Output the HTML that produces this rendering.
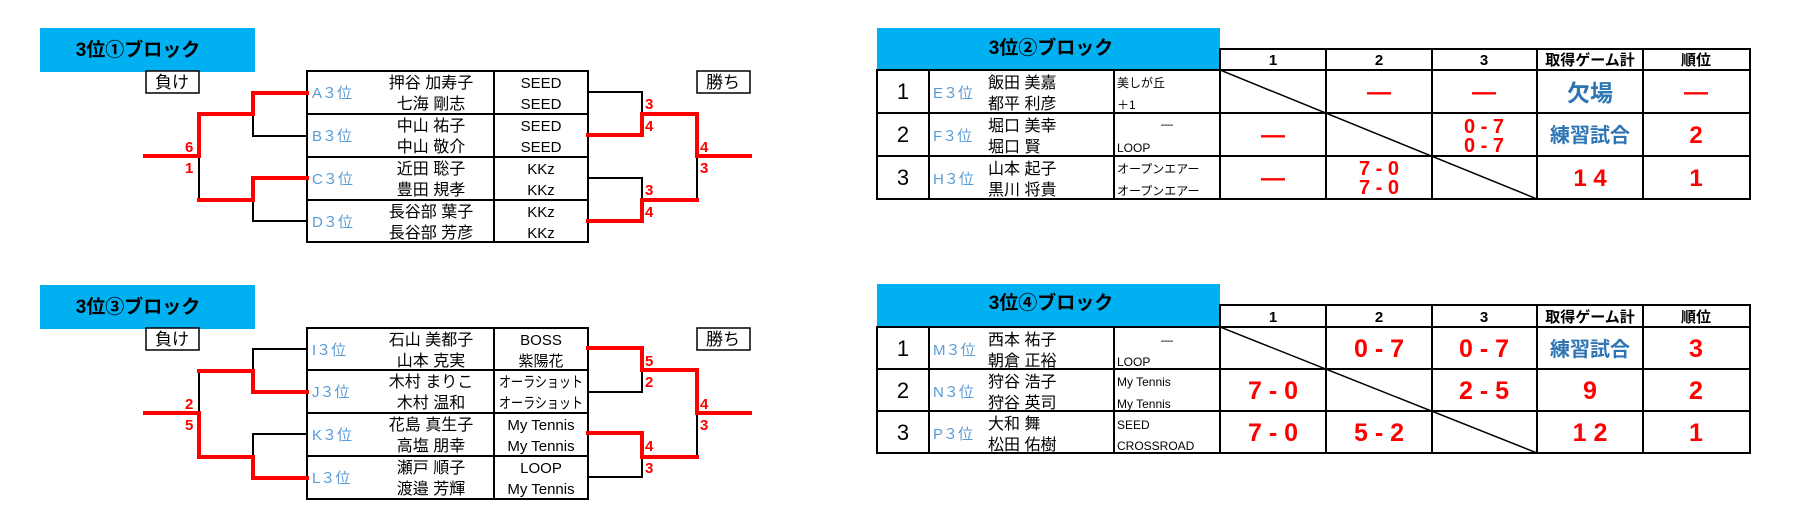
<!DOCTYPE html>
<html><head><meta charset="utf-8"><style>
html,body{margin:0;padding:0;background:#fff;}
svg{display:block;}
text{font-family:"Liberation Sans","Noto Sans CJK JP",sans-serif;}
.n{font-size:16px;fill:#000;text-anchor:middle;}
.t{font-size:15px;fill:#000;text-anchor:middle;}
.ts{font-size:12px;fill:#000;}
.p{font-size:15px;fill:#5b9bd5;}
.h{font-size:19px;font-weight:bold;fill:#000;text-anchor:middle;}
.r{fill:#f00;font-weight:bold;text-anchor:middle;}
.b{fill:#2e75b6;font-weight:bold;text-anchor:middle;}
.k{font-size:22px;fill:#000;text-anchor:middle;}
.ch{font-size:15px;font-weight:bold;fill:#000;text-anchor:middle;}
.lbl{font-size:15px;fill:#f00;font-weight:bold;}
</style></head><body>
<svg width="1817" height="525" viewBox="0 0 1817 525" xmlns="http://www.w3.org/2000/svg">
<g stroke-linecap="square">
<!-- ===== Block 1 ===== -->
<rect x="40" y="28" width="215" height="44" fill="#00b0f0"/>
<text class="h" x="138" y="56">3位①ブロック</text>
<rect x="146" y="71" width="53" height="22" fill="#fff" stroke="#000" stroke-width="1.5"/>
<text x="172" y="88" font-size="17" text-anchor="middle">負け</text>
<rect x="697" y="71" width="53" height="22" fill="#fff" stroke="#000" stroke-width="1.5"/>
<text x="723" y="88" font-size="17" text-anchor="middle">勝ち</text>
<g fill="none" stroke="#000" stroke-width="2">
<rect x="307" y="71" width="281" height="171"/>
<line x1="494" y1="71" x2="494" y2="242"/>
<line x1="307" y1="114" x2="588" y2="114"/>
<line x1="307" y1="157" x2="588" y2="157"/>
<line x1="307" y1="200" x2="588" y2="200"/>
<!-- black bracket lines -->
<polyline points="199,157 199,200"/>
<polyline points="253,114 253,136 307,136"/>
<polyline points="253,200 253,221 307,221"/>
<polyline points="588,92 642,92 642,114"/>
<polyline points="697,157 697,200"/>
<polyline points="588,178 642,178 642,200"/>
</g>
<g fill="none" stroke="#f00" stroke-width="4">
<polyline points="145,156 199,156 199,114 253,114 253,93 307,93"/>
<polyline points="199,200 253,200 253,178 307,178"/>
<polyline points="588,135 642,135 642,114 697,114 697,156 750,156"/>
<polyline points="588,221 642,221 642,200 697,200"/>
</g>
<text class="lbl" x="185" y="152">6</text><text class="lbl" x="185" y="173">1</text>
<text class="lbl" x="645" y="109">3</text><text class="lbl" x="645" y="131">4</text>
<text class="lbl" x="700" y="152">4</text><text class="lbl" x="700" y="173">3</text>
<text class="lbl" x="645" y="195">3</text><text class="lbl" x="645" y="217">4</text>
<text class="p" x="312" y="98">A３位</text>
<text class="n" x="431" y="88">押谷 加寿子</text><text class="n" x="431" y="109">七海 剛志</text>
<text class="t" x="541" y="88">SEED</text><text class="t" x="541" y="109">SEED</text>
<text class="p" x="312" y="141">B３位</text>
<text class="n" x="431" y="131">中山 祐子</text><text class="n" x="431" y="152">中山 敬介</text>
<text class="t" x="541" y="131">SEED</text><text class="t" x="541" y="152">SEED</text>
<text class="p" x="312" y="184">C３位</text>
<text class="n" x="431" y="174">近田 聡子</text><text class="n" x="431" y="195">豊田 規孝</text>
<text class="t" x="541" y="174">KKz</text><text class="t" x="541" y="195">KKz</text>
<text class="p" x="312" y="227">D３位</text>
<text class="n" x="431" y="217">長谷部 葉子</text><text class="n" x="431" y="238">長谷部 芳彦</text>
<text class="t" x="541" y="217">KKz</text><text class="t" x="541" y="238">KKz</text>

<!-- ===== Block 3 ===== -->
<rect x="40" y="285" width="215" height="44" fill="#00b0f0"/>
<text class="h" x="138" y="313">3位③ブロック</text>
<rect x="146" y="328" width="53" height="22" fill="#fff" stroke="#000" stroke-width="1.5"/>
<text x="172" y="345" font-size="17" text-anchor="middle">負け</text>
<rect x="697" y="328" width="53" height="22" fill="#fff" stroke="#000" stroke-width="1.5"/>
<text x="723" y="345" font-size="17" text-anchor="middle">勝ち</text>
<g fill="none" stroke="#000" stroke-width="2">
<rect x="307" y="328" width="281" height="171"/>
<line x1="494" y1="328" x2="494" y2="499"/>
<line x1="307" y1="370" x2="588" y2="370"/>
<line x1="307" y1="413" x2="588" y2="413"/>
<line x1="307" y1="456" x2="588" y2="456"/>
<polyline points="199,371 199,413"/>
<polyline points="307,349 253,349 253,371"/>
<polyline points="307,434 253,434 253,457"/>
<polyline points="588,392 642,392 642,370"/>
<polyline points="697,413 697,457"/>
<polyline points="588,477 642,477 642,457"/>
</g>
<g fill="none" stroke="#f00" stroke-width="4">
<polyline points="145,413 199,413 199,457 253,457 253,478 307,478"/>
<polyline points="199,371 253,371 253,392 307,392"/>
<polyline points="588,348 642,348 642,370 697,370 697,413 750,413"/>
<polyline points="588,433 642,433 642,457 697,457"/>
</g>
<text class="lbl" x="185" y="409">2</text><text class="lbl" x="185" y="430">5</text>
<text class="lbl" x="645" y="366">5</text><text class="lbl" x="645" y="387">2</text>
<text class="lbl" x="700" y="409">4</text><text class="lbl" x="700" y="430">3</text>
<text class="lbl" x="645" y="451">4</text><text class="lbl" x="645" y="473">3</text>
<text class="p" x="312" y="355">I３位</text>
<text class="n" x="431" y="345">石山 美都子</text><text class="n" x="431" y="366">山本 克実</text>
<text class="t" x="541" y="345">BOSS</text><text class="t" x="541" y="366">紫陽花</text>
<text class="p" x="312" y="397">J３位</text>
<text class="n" x="431" y="387">木村 まりこ</text><text class="n" x="431" y="408">木村 温和</text>
<text class="t" x="541" y="387" font-size="13" textLength="84" lengthAdjust="spacingAndGlyphs">オーラショット</text><text class="t" x="541" y="408" font-size="13" textLength="84" lengthAdjust="spacingAndGlyphs">オーラショット</text>
<text class="p" x="312" y="440">K３位</text>
<text class="n" x="431" y="430">花島 真生子</text><text class="n" x="431" y="451">高塩 朋幸</text>
<text class="t" x="541" y="430">My Tennis</text><text class="t" x="541" y="451">My Tennis</text>
<text class="p" x="312" y="483">L３位</text>
<text class="n" x="431" y="473">瀬戸 順子</text><text class="n" x="431" y="494">渡邉 芳輝</text>
<text class="t" x="541" y="473">LOOP</text><text class="t" x="541" y="494">My Tennis</text>

<!-- ===== Block 2 ===== -->
<rect x="877" y="28" width="343" height="42" fill="#00b0f0"/>
<text class="h" x="1051" y="54">3位②ブロック</text>
<g fill="none" stroke="#000" stroke-width="2">
<line x1="1220" y1="49" x2="1750" y2="49"/>
<line x1="877" y1="70" x2="1750" y2="70"/>
<line x1="877" y1="113" x2="1750" y2="113"/>
<line x1="877" y1="156" x2="1750" y2="156"/>
<line x1="877" y1="199" x2="1750" y2="199"/>
<line x1="877" y1="70" x2="877" y2="199"/>
<line x1="929" y1="70" x2="929" y2="199"/>
<line x1="1114" y1="70" x2="1114" y2="199"/>
<line x1="1220" y1="49" x2="1220" y2="199"/>
<line x1="1326" y1="49" x2="1326" y2="199"/>
<line x1="1432" y1="49" x2="1432" y2="199"/>
<line x1="1537" y1="49" x2="1537" y2="199"/>
<line x1="1643" y1="49" x2="1643" y2="199"/>
<line x1="1750" y1="49" x2="1750" y2="199"/>
<line x1="1220" y1="70" x2="1537" y2="199" stroke-width="1.5"/>
</g>
<text class="ch" x="1273" y="65">1</text><text class="ch" x="1379" y="65">2</text><text class="ch" x="1484" y="65">3</text>
<text class="ch" x="1590" y="65" font-size="13">取得ゲーム計</text><text class="ch" x="1696" y="65">順位</text>
<text class="k" x="903" y="99">1</text><text class="k" x="903" y="142">2</text><text class="k" x="903" y="185">3</text>
<text class="p" x="933" y="98">E３位</text><text class="p" x="933" y="141">F３位</text><text class="p" x="933" y="184">H３位</text>
<text x="988" y="88" font-size="16">飯田 美嘉</text><text x="988" y="109" font-size="16">都平 利彦</text>
<text x="988" y="131" font-size="16">堀口 美幸</text><text x="988" y="152" font-size="16">堀口 賢</text>
<text x="988" y="174" font-size="16">山本 起子</text><text x="988" y="195" font-size="16">黒川 将貴</text>
<text class="ts" x="1117" y="87">美しが丘</text><text class="ts" x="1117" y="109">＋1</text>
<text class="ts" x="1167" y="128" text-anchor="middle">—</text><text class="ts" x="1117" y="152">LOOP</text>
<text class="ts" x="1117" y="173">オープンエアー</text><text class="ts" x="1117" y="195">オープンエアー</text>
<text class="r" x="1379" y="100" font-size="24">—</text><text class="r" x="1484" y="100" font-size="24">—</text>
<text class="b" x="1590" y="101" font-size="23">欠場</text><text class="r" x="1696" y="100" font-size="24">—</text>
<text class="r" x="1273" y="143" font-size="24">—</text>
<text class="r" x="1484" y="133" font-size="20">0 - 7</text><text class="r" x="1484" y="152" font-size="20">0 - 7</text>
<text class="b" x="1590" y="142" font-size="20">練習試合</text><text class="r" x="1696" y="143" font-size="24">2</text>
<text class="r" x="1273" y="186" font-size="24">—</text>
<text class="r" x="1379" y="175" font-size="20">7 - 0</text><text class="r" x="1379" y="194" font-size="20">7 - 0</text>
<text class="r" x="1590" y="186" font-size="24">1 4</text><text class="r" x="1696" y="186" font-size="24">1</text>

<!-- ===== Block 4 ===== -->
<rect x="877" y="284" width="343" height="43" fill="#00b0f0"/>
<text class="h" x="1051" y="309">3位④ブロック</text>
<g fill="none" stroke="#000" stroke-width="2">
<line x1="1220" y1="305" x2="1750" y2="305"/>
<line x1="877" y1="327" x2="1750" y2="327"/>
<line x1="877" y1="369" x2="1750" y2="369"/>
<line x1="877" y1="411" x2="1750" y2="411"/>
<line x1="877" y1="453" x2="1750" y2="453"/>
<line x1="877" y1="327" x2="877" y2="453"/>
<line x1="929" y1="327" x2="929" y2="453"/>
<line x1="1114" y1="327" x2="1114" y2="453"/>
<line x1="1220" y1="305" x2="1220" y2="453"/>
<line x1="1326" y1="305" x2="1326" y2="453"/>
<line x1="1432" y1="305" x2="1432" y2="453"/>
<line x1="1537" y1="305" x2="1537" y2="453"/>
<line x1="1643" y1="305" x2="1643" y2="453"/>
<line x1="1750" y1="305" x2="1750" y2="453"/>
<line x1="1220" y1="327" x2="1537" y2="453" stroke-width="1.5"/>
</g>
<text class="ch" x="1273" y="322">1</text><text class="ch" x="1379" y="322">2</text><text class="ch" x="1484" y="322">3</text>
<text class="ch" x="1590" y="322" font-size="13">取得ゲーム計</text><text class="ch" x="1696" y="322">順位</text>
<text class="k" x="903" y="356">1</text><text class="k" x="903" y="398">2</text><text class="k" x="903" y="440">3</text>
<text class="p" x="933" y="355">M３位</text><text class="p" x="933" y="397">N３位</text><text class="p" x="933" y="439">P３位</text>
<text x="988" y="345" font-size="16">西本 祐子</text><text x="988" y="366" font-size="16">朝倉 正裕</text>
<text x="988" y="387" font-size="16">狩谷 浩子</text><text x="988" y="408" font-size="16">狩谷 英司</text>
<text x="988" y="429" font-size="16">大和 舞</text><text x="988" y="450" font-size="16">松田 佑樹</text>
<text class="ts" x="1167" y="344" text-anchor="middle">—</text><text class="ts" x="1117" y="366">LOOP</text>
<text class="ts" x="1117" y="386">My Tennis</text><text class="ts" x="1117" y="408">My Tennis</text>
<text class="ts" x="1117" y="429">SEED</text><text class="ts" x="1117" y="450">CROSSROAD</text>
<text class="r" x="1379" y="357" font-size="25">0 - 7</text><text class="r" x="1484" y="357" font-size="25">0 - 7</text>
<text class="b" x="1590" y="356" font-size="20">練習試合</text><text class="r" x="1696" y="357" font-size="25">3</text>
<text class="r" x="1273" y="399" font-size="25">7 - 0</text><text class="r" x="1484" y="399" font-size="25">2 - 5</text>
<text class="r" x="1590" y="399" font-size="25">9</text><text class="r" x="1696" y="399" font-size="25">2</text>
<text class="r" x="1273" y="441" font-size="25">7 - 0</text><text class="r" x="1379" y="441" font-size="25">5 - 2</text>
<text class="r" x="1590" y="441" font-size="25">1 2</text><text class="r" x="1696" y="441" font-size="25">1</text>
</g>
</svg>
</body></html>
